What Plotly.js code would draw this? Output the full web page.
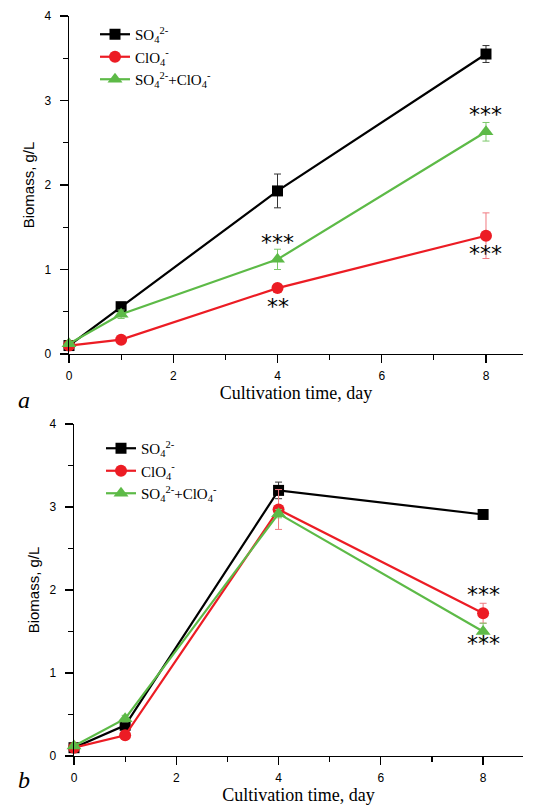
<!DOCTYPE html>
<html>
<head>
<meta charset="utf-8">
<script src="https://cdn.plot.ly/plotly-3.0.1.min.js"></script>
<style>html,body{margin:0;padding:0;background:#fff;}#chart{width:535px;height:807px;}</style>
</head>
<body>
<div id="chart"></div>
<script>
// ---- data ----
var days = [0, 1, 4, 8];
var seriesNames = ["SO<sub>4</sub><sup>2-</sup>", "ClO<sub>4</sub><sup>-</sup>", "SO<sub>4</sub><sup>2-</sup>+ClO<sub>4</sub><sup>-</sup>"];
// panel a
var aSO4 = [0.10, 0.56, 1.93, 3.55];
var aSO4err = [0.02, 0.04, 0.20, 0.10];
var aClO4 = [0.10, 0.17, 0.78, 1.40];
var aClO4err = [0.02, 0.02, 0.04, 0.27];
var aMix = [0.12, 0.47, 1.12, 2.63];
var aMixerr = [0.02, 0.05, 0.12, 0.11];
// panel b
var bSO4 = [0.10, 0.37, 3.20, 2.91];
var bSO4err = [0.02, 0.03, 0.10, 0.03];
var bClO4 = [0.10, 0.25, 2.97, 1.72];
var bClO4err = [0.02, 0.02, 0.24, 0.12];
var bMix = [0.12, 0.45, 2.92, 1.50];
var bMixerr = [0.02, 0.04, 0.05, 0.10];
// significance marks: [x, y, text]
var aStars = [[8, 2.84, "***"], [4, 1.32, "***"], [4, 0.56, "**"], [8, 1.19, "***"]];
var bStars = [[8, 1.95, "***"], [8, 1.36, "***"]];

var colors = ["#000000", "#ec1c24", "#5dba47"];
var errColors = ["#333333", "#f07a80", "#7cc86a"];
var symbols = ["square", "circle", "triangle-up"];
var sizes = [11, 12, 13];

function mk(y, err, i, xa, ya, lg) {
  return {
    x: days, y: y, type: "scatter", mode: "lines+markers",
    name: seriesNames[i], xaxis: xa, yaxis: ya, legend: lg,
    line: {color: colors[i], width: 2.2},
    marker: {symbol: symbols[i], size: sizes[i], color: colors[i]},
    error_y: {type: "data", array: err, visible: true, color: errColors[i], thickness: 1, width: 3.5},
    cliponaxis: false
  };
}
var data = [
  mk(aSO4, aSO4err, 0, "x", "y", "legend"),
  mk(aClO4, aClO4err, 1, "x", "y", "legend"),
  mk(aMix, aMixerr, 2, "x", "y", "legend"),
  mk(bSO4, bSO4err, 0, "x2", "y2", "legend2"),
  mk(bClO4, bClO4err, 1, "x2", "y2", "legend2"),
  mk(bMix, bMixerr, 2, "x2", "y2", "legend2")
];

var tickFont = {family: "Liberation Sans, Arial, sans-serif", size: 12, color: "#000"};
function xax(domain, range, anchor) {
  return {
    domain: domain, range: range, anchor: anchor,
    showline: true, linecolor: "#000", linewidth: 1.3, mirror: false,
    showgrid: false, zeroline: false,
    ticks: "outside", ticklen: 8, tickwidth: 1.3, tickcolor: "#000",
    tickvals: [0, 2, 4, 6, 8], tickfont: tickFont, ticklabelstandoff: 2,
    minor: {tickvals: [1, 3, 5, 7], ticks: "outside", ticklen: 5, tickwidth: 1.2, tickcolor: "#000", showgrid: false},
    title: {text: "Cultivation time, day", font: {family: "Liberation Serif, Times New Roman, serif", size: 18, color: "#000"}, standoff: 4}
  };
}
function yax(domain, anchor) {
  return {
    domain: domain, range: [0, 4], anchor: anchor,
    showline: true, linecolor: "#000", linewidth: 1.3,
    showgrid: false, zeroline: false,
    ticks: "outside", ticklen: 8, tickwidth: 1.3, tickcolor: "#000",
    tickvals: [0, 1, 2, 3, 4], tickfont: tickFont, ticklabelstandoff: 6,
    minor: {tickvals: [0.5, 1.5, 2.5, 3.5], ticks: "outside", ticklen: 5, tickwidth: 1.2, tickcolor: "#000", showgrid: false},
    title: {text: "Biomass, g/L", font: {family: "Liberation Sans, Arial, sans-serif", size: 15, color: "#000"}, standoff: 6}
  };
}

var starFont = {family: "DejaVu Sans, sans-serif", size: 22, color: "#000"};
var annotations = [];
aStars.forEach(function (s) {
  annotations.push({x: s[0], y: s[1], xref: "x", yref: "y", text: s[2], showarrow: false, font: starFont});
});
bStars.forEach(function (s) {
  annotations.push({x: s[0], y: s[1], xref: "x2", yref: "y2", text: s[2], showarrow: false, font: starFont});
});
annotations.push({x: 16 / 535, y: 1 - 400 / 807, xref: "paper", yref: "paper", text: "<i>a</i>", showarrow: false,
  font: {family: "Liberation Serif, serif", size: 24, color: "#000"}});
annotations.push({x: 16 / 535, y: 1 - 795 / 807, xref: "paper", yref: "paper", text: "<i>b</i>", showarrow: false,
  font: {family: "Liberation Serif, serif", size: 24, color: "#000"}});

var legFont = {family: "Liberation Serif, Times New Roman, serif", size: 15, color: "#000"};
var layout = {
  width: 535, height: 807,
  margin: {l: 0, r: 0, t: 0, b: 0},
  paper_bgcolor: "#fff", plot_bgcolor: "#fff",
  showlegend: true,
  xaxis: xax([69 / 535, 523 / 535], [0, 8.71], "y"),
  yaxis: yax([1 - 354 / 807, 1 - 16 / 807], "x"),
  xaxis2: xax([74 / 535, 523 / 535], [0, 8.78], "y2"),
  yaxis2: yax([1 - 756 / 807, 1 - 424 / 807], "x2"),
  legend: {x: 95 / 535, y: 1 - 18 / 807, xanchor: "left", yanchor: "top", bgcolor: "rgba(0,0,0,0)",
    font: legFont, itemwidth: 30, tracegroupgap: 0},
  legend2: {x: 101 / 535, y: 1 - 432 / 807, xanchor: "left", yanchor: "top", bgcolor: "rgba(0,0,0,0)",
    font: legFont, itemwidth: 30, tracegroupgap: 0},
  annotations: annotations
};
Plotly.newPlot("chart", data, layout, {displayModeBar: false, staticPlot: true});
</script>
</body>
</html>
